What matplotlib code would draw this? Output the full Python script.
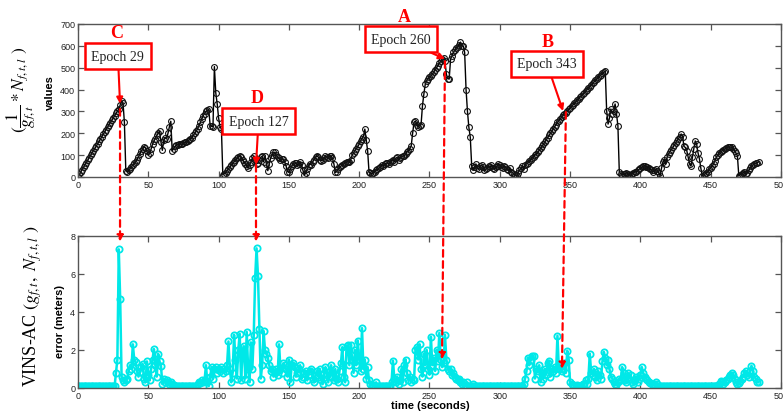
import numpy as np
import matplotlib
matplotlib.use("Agg")
import matplotlib.pyplot as plt
from matplotlib.patches import ConnectionPatch

plt.rcParams['mathtext.fontset'] = 'stix'

# ---------------- data ----------------
ratio_values = [
    0, 12, 23, 34, 45, 56, 66, 77, 88, 99,
    110, 121, 131, 142, 153, 163, 174, 185, 196, 206,
    217, 228, 238, 249, 259, 270, 280, 291, 300, 310,
    330, 349, 340, 250, 29, 25, 30, 38, 48, 55,
    62, 70, 80, 92, 105, 118, 128, 138, 132, 118,
    100, 108, 128, 150, 165, 175, 190, 200, 210, 160,
    122, 170, 180, 175, 200, 230, 255, 120, 130, 140,
    145, 148, 150, 152, 150, 155, 158, 160, 165, 170,
    175, 180, 190, 200, 210, 220, 235, 250, 265, 280,
    290, 300, 305, 310, 235, 232, 230, 505, 384, 335,
    270, 230, 220, 10, 15, 20, 28, 38, 45, 55,
    62, 70, 78, 85, 92, 96, 90, 80, 70, 60,
    50, 40, 55, 70, 85, 95, 80, 60, 65, 80,
    90, 95, 70, 97, 60, 29, 60, 85, 100, 113,
    113, 100, 90, 85, 80, 82, 82, 70, 50, 25,
    21, 35, 50, 60, 65, 62, 55, 60, 67, 55,
    30, 8, 20, 35, 50, 60, 55, 70, 80, 90,
    97, 90, 80, 75, 80, 85, 95, 90, 85, 97,
    97, 85, 60, 21, 25, 35, 45, 50, 55, 60,
    65, 67, 70, 67, 80, 100, 110, 120, 130, 140,
    150, 165, 175, 185, 219, 170, 120, 21, 18, 15,
    20, 25, 30, 35, 40, 45, 55, 50, 60, 62,
    65, 60, 67, 75, 80, 70, 85, 90, 80, 88,
    92, 95, 97, 105, 115, 120, 130, 143, 200, 250,
    256, 240, 230, 235, 240, 326, 380, 425, 440, 450,
    458, 462, 470, 480, 490, 500, 510, 520, 530, 540,
    545, 530, 470, 450, 448, 540, 555, 570, 580, 590,
    595, 605, 617, 600, 600, 570, 400, 300, 227, 182,
    52, 30, 45, 60, 40, 35, 50, 55, 45, 30,
    35, 40, 50, 45, 55, 40, 35, 45, 50, 60,
    55, 45, 40, 50, 45, 35, 30, 40, 25, 20,
    15, 10, 5, 20, 30, 40, 50, 35, 55, 60,
    65, 72, 80, 86, 92, 100, 106, 113, 122, 131,
    140, 150, 160, 170, 180, 190, 200, 210, 220, 230,
    240, 250, 258, 266, 275, 282, 288, 295, 302, 309,
    316, 323, 330, 337, 344, 351, 358, 365, 372, 379,
    386, 393, 400, 407, 414, 421, 428, 435, 442, 449,
    456, 462, 468, 474, 480, 486, 303, 242, 270, 311,
    290, 300, 334, 288, 235, 21, 15, 10, 12, 15,
    20, 15, 10, 8, 15, 20, 25, 22, 30, 35,
    40, 45, 50, 52, 48, 45, 40, 35, 30, 25,
    30, 35, 29, 20, 6, 40, 67, 80, 60, 90,
    105, 115, 125, 135, 145, 155, 165, 175, 185, 197,
    185, 140, 135, 120, 90, 60, 50, 90, 130, 165,
    150, 110, 82, 40, 5, 10, 15, 20, 25, 35,
    42, 50, 60, 75, 90, 100, 110, 115, 120, 125,
    128, 132, 135, 138, 137, 135, 130, 120, 110, 96,
    5, 10, 15, 20, 25, 15, 20, 30, 40, 50,
    55, 60, 62, 65, 69,
]

error_values = (
    [0.08] * 27 + [0.8, 1.5, 7.3] +
    [4.7, 0.6, 0.4, 0.3, 0.4, 0.5, 0.9, 1.2, 1.0, 2.3,
     1.5, 1.35, 0.9, 0.6, 0.84, 1.1, 1.26, 0.5, 0.3, 1.4,
     0.7, 0.4, 1.0, 1.5, 2.05, 1.2, 0.6, 1.8, 1.4, 1.17,
     0.2, 0.5, 0.3, 0.4, 0.3, 0.2, 0.3, 0.2, 0.15, 0.1] +
    [0.08] * 14 +
    [0.1, 0.2, 0.3, 0.25, 0.4, 0.3,
     0.4, 1.2, 0.3, 0.1, 0.6, 1.1, 0.5, 1.0, 1.1, 0.8,
     1.0, 0.9, 1.1, 0.8, 1.0, 0.9, 1.2, 2.45, 1.0, 0.3,
     0.8, 2.8, 1.5, 0.5, 2.0, 2.85, 0.4, 1.8, 2.2, 0.5,
     2.95, 1.0, 0.3, 2.4, 1.0, 2.8, 5.8, 7.35, 5.9, 3.1,
     0.5, 1.2, 3.0, 2.0, 1.8, 1.6, 1.2, 0.9, 1.0, 0.6,
     0.8, 1.0, 0.7, 2.3, 1.0, 0.8, 1.3, 1.2, 1.0, 0.6,
     1.5, 0.3, 1.2, 1.3, 1.1, 0.6, 0.8, 1.0, 1.2, 0.5,
     0.6, 0.8, 0.9, 0.4, 0.7, 0.9, 1.0, 0.5, 0.3, 0.7,
     0.9, 0.6, 1.0, 0.4, 0.2, 0.8, 1.1, 0.7, 0.3, 0.9,
     1.2, 0.6, 0.4, 1.0, 0.5, 0.3, 0.9, 1.3, 2.15, 0.6,
     0.3, 2.2, 2.25, 1.2, 2.25, 1.5, 0.8, 2.0, 1.2, 2.5,
     1.5, 0.9, 3.15, 1.0, 1.5, 0.5, 1.1, 0.4, 0.2, 0.15,
     0.1, 0.12, 0.3, 0.1, 0.08, 0.08, 0.1, 0.08, 0.08, 0.08,
     0.08, 0.1, 0.08, 0.3, 1.44, 0.5, 0.3, 0.6, 0.2, 0.4,
     1.0, 0.3, 1.2, 1.5, 0.8, 0.4, 0.6, 0.3, 0.5, 0.4,
     2.0, 2.15, 1.5, 2.3, 1.0, 0.6, 1.8, 1.2, 2.0, 1.0,
     0.7, 2.7, 1.2, 1.6, 0.9, 2.0, 1.4, 2.9, 1.5, 1.1,
     1.3, 2.8, 1.5, 1.0, 0.9, 1.0, 0.7, 0.8, 0.6, 0.5,
     0.4, 0.5, 0.3, 0.2, 0.3, 0.15, 0.1, 0.3, 0.1, 0.08,
     0.08, 0.2, 0.08] +
    [0.08] * 34 +
    [0.2, 0.5, 0.9,
     1.6, 1.2, 1.5, 1.7, 1.7, 0.5, 1.0, 0.9, 1.2, 0.3,
     0.8, 0.5, 1.0, 0.7, 1.3, 1.44, 0.6, 1.0, 0.9, 1.1,
     0.8, 2.75, 1.0, 1.2, 0.9, 1.0, 1.3, 0.8, 1.96, 1.5,
     0.3, 0.2, 0.15, 0.1, 0.1, 0.15, 0.1, 0.08, 0.1, 0.2,
     0.2, 0.4, 0.2, 0.5, 1.8, 0.8, 0.7, 1.0, 0.6, 0.4,
     0.9, 0.7, 0.5, 1.4, 1.9, 1.6, 1.2, 1.5, 1.0, 0.6,
     0.5, 0.3, 0.2, 0.15, 0.3, 0.5, 0.4, 1.1, 0.8, 0.4,
     0.3, 0.8, 0.5, 0.7, 0.3, 0.2, 0.4, 0.6, 0.3, 0.5,
     0.7, 1.1, 0.8, 0.6, 0.5, 0.4, 0.3, 0.25, 0.2, 0.15,
     0.2, 0.3, 0.2, 0.1] +
    [0.08] * 42 +
    [0.2, 0.38, 0.3, 0.2,
     0.3, 0.4, 0.5, 0.6, 0.7, 0.8, 0.7, 0.5, 0.3, 0.2,
     0.25, 0.35, 0.5, 0.6, 0.8, 0.9, 0.7, 0.6, 0.9, 1.17,
     0.9, 0.6, 0.5, 0.33, 0.3]
)

ratio_time = np.arange(len(ratio_values))   # one sample per second
error_time = np.arange(len(error_values))

x_ticks = [0, 50, 100, 150, 200, 250, 300, 350, 400, 450, 500]
top_yticks = [0, 100, 200, 300, 400, 500, 600, 700]
bot_yticks = [0, 2, 4, 6, 8]

# annotations: letter, label, point (top), box centre, letter pos
annotations = [
    ("C", "Epoch 29", (29.9, 335), (28.4, 553), (27.7, 663)),
    ("D", "Epoch 127", (126.6, 55), (128.4, 256), (127.3, 366)),
    ("A", "Epoch 260", (261, 540), (229.7, 631), (231.9, 736)),
    ("B", "Epoch 343", (345, 302), (333.6, 517), (334.3, 622)),
]
# dashed drop lines: (top point) -> (bottom point)
drops = [
    ((29.9, 311), (29.9, 7.7)),
    ((126.6, 55), (126.6, 7.7)),
    ((261, 530), (258.9, 1.5)),
    ((347, 297), (344.2, 1.0)),
]

# ---------------- figure ----------------
W, H = 783, 414
fig = plt.figure(figsize=(W / 100, H / 100), dpi=100)

def ax_rect(x0, y0, x1, y1):
    return [x0 / W, 1 - y1 / H, (x1 - x0) / W, (y1 - y0) / H]

ax1 = fig.add_axes(ax_rect(78, 25, 781, 178))
ax2 = fig.add_axes(ax_rect(78, 237, 781, 389))

spine_col = '#555555'
for ax in (ax1, ax2):
    for s in ax.spines.values():
        s.set_color(spine_col)
        s.set_linewidth(1.0)
    ax.tick_params(direction='in', top=True, right=True, length=4,
                   width=0.9, color=spine_col, labelsize=6.5,
                   labelcolor='#222222', pad=2)
    ax.set_xlim(0, 500)
    ax.set_xticks(x_ticks)
    for lab in ax.get_xticklabels() + ax.get_yticklabels():
        lab.set_family('Liberation Sans')

ax1.set_ylim(0, 700)
ax1.set_yticks(top_yticks)
ax2.set_ylim(0, 8)
ax2.set_yticks(bot_yticks)

ax1.plot(ratio_time, ratio_values, color='black', lw=1.0, marker='o',
         markersize=4.2, markerfacecolor='none', markeredgewidth=0.8,
         markeredgecolor='#111111')
ax2.plot(error_time, error_values, color='#00E8E8', lw=1.8, marker='o',
         markersize=4.5, markerfacecolor='none', markeredgewidth=1.3,
         markeredgecolor='#00E8E8')

# axis labels
fig.text(50 / W, 1 - 93 / H, 'values', rotation=90, ha='center', va='center',
         fontsize=8, fontweight='bold', family='Liberation Sans')
fig.text(21 / W, 1 - 90 / H, r'$(\dfrac{1}{g_{f,t}} * N_{f,t,l}\ )$', rotation=90,
         ha='center', va='center', fontsize=12.5)
fig.text(60 / W, 1 - 322 / H, 'error (meters)', rotation=90, ha='center',
         va='center', fontsize=8, fontweight='bold', family='Liberation Sans')
fig.text(33 / W, 1 - 306 / H, r'VINS-AC $(g_{f,t},\ N_{f,t,l}\ )$', rotation=90,
         ha='center', va='center', fontsize=13, family='Liberation Serif')
fig.text(430 / W, 1 - 406 / H, 'time (seconds)', ha='center', va='center',
         fontsize=8, fontweight='bold', family='Liberation Sans')

# annotations
for letter, label, pt, box, lpos in annotations:
    ax1.annotate(label, xy=pt, xytext=box, textcoords='data', ha='center',
                 va='center', fontsize=10, family='Liberation Serif',
                 color='#222222', annotation_clip=False,
                 bbox=dict(boxstyle='square,pad=0.45', fc='white', ec='red', lw=1.8),
                 arrowprops=dict(arrowstyle='-|>', color='red', lw=1.5,
                                 mutation_scale=9, shrinkA=0, shrinkB=0))
    ax1.text(lpos[0], lpos[1], letter, ha='center', va='center', fontsize=13,
             fontweight='bold', family='Liberation Serif', color='red',
             clip_on=False)

for a, b in drops:
    con = ConnectionPatch(xyA=a, coordsA=ax1.transData, xyB=b, coordsB=ax2.transData,
                          arrowstyle='-|>', linestyle=(0, (3, 2)), color='red',
                          lw=1.6, mutation_scale=9, shrinkA=0, shrinkB=0)
    fig.add_artist(con)

fig.savefig('out.png', dpi=100)
